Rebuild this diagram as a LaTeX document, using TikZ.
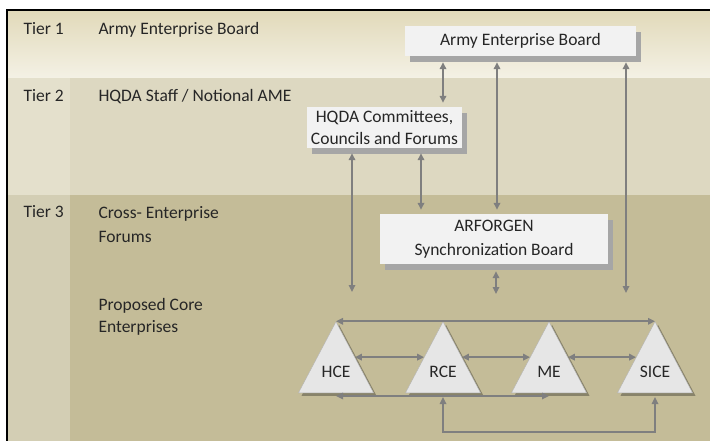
\documentclass[tikz,border=0pt]{standalone}
\usepackage{fontspec}
\setmainfont{Carlito}
\usetikzlibrary{arrows.meta,shapes.geometric,shadows}
\definecolor{bandtop}{HTML}{E1D9B9}
\definecolor{bandbot}{HTML}{F4F1E5}
\definecolor{bandmid}{HTML}{DDD8C1}
\definecolor{colmid}{HTML}{E4E0CC}
\definecolor{bandlow}{HTML}{C4BC98}
\definecolor{collow}{HTML}{D3CEB4}
\definecolor{boxfill}{HTML}{F2F2F2}
\definecolor{boxshade}{HTML}{A6A6A6}
\definecolor{trifill}{HTML}{E6E6E6}
\definecolor{triline}{HTML}{B4B4B4}
\definecolor{linkgray}{HTML}{7F7F7F}
\definecolor{txt}{HTML}{262626}
\begin{document}
\begin{tikzpicture}[x=1pt,y=-1pt,
    every node/.style={font=\fontsize{17.5}{22}\selectfont, text=txt},
    board/.style={fill=boxfill, inner sep=0pt, align=center,
        drop shadow={shadow xshift=5pt, shadow yshift=-6pt, fill=boxshade, opacity=1}},
    core/.style={isosceles triangle, isosceles triangle stretches, shape border rotate=90,
        minimum width=75pt, minimum height=71pt, inner sep=0pt,
        draw=triline, fill=trifill,
        drop shadow={shadow xshift=3pt, shadow yshift=-3pt, fill=black, opacity=0.3}},
    link/.style={draw=linkgray, line width=1.6pt,
        {Triangle[length=7pt,width=6.5pt]}-{Triangle[length=7pt,width=6.5pt]}}]
    \useasboundingbox (0,0) rectangle (710,441);
    \fill[white] (0,0) rectangle (710,441);
    \shade[top color=bandtop, bottom color=bandbot] (8,10) rectangle (710,78);
    \fill[bandmid] (8,78) rectangle (710,195);
    \fill[colmid] (8,78) rectangle (70,195);
    \fill[bandlow] (8,195) rectangle (710,441);
    \fill[collow] (8,195) rectangle (70,441);
    \draw[line width=2pt] (7,441) -- (7,10) -- (710,10);
    \node[anchor=base west] (tier1) at (20,35) {Tier 1};
    \node[anchor=base west] (tier1name) at (95,35) {Army Enterprise Board};
    \node[anchor=base west] (tier2) at (20,102) {Tier 2};
    \node[anchor=base west] (tier2name) at (95,102) {HQDA Staff / Notional AME};
    \node[anchor=base west] (tier3) at (20,218) {Tier 3};
    \node[anchor=base west, align=left, font=\fontsize{17.5}{24}\selectfont] (tier3name) at (95,242) {Cross- Enterprise\\Forums};
    \node[anchor=base west, align=left] (corename) at (95,332) {Proposed Core\\Enterprises};
    \node[board, minimum width=231pt, minimum height=30pt] (aeb) at (520.5,41) {Army Enterprise Board};
    \node[board, minimum width=155pt, minimum height=41pt] (hqda) at (384.5,127.5) {HQDA Committees,\\Councils and Forums};
    \node[board, minimum width=228pt, minimum height=50pt, font=\fontsize{17.5}{24}\selectfont] (afsb) at (494,239) {ARFORGEN\\Synchronization Board};
    \node[core, anchor=lower side] (hce) at (336,393) {};
    \node[core, anchor=lower side] (rce) at (443,393) {};
    \node[core, anchor=lower side] (me) at (549,393) {};
    \node[core, anchor=lower side] (sice) at (655,393) {};
    \node[anchor=base] (hcetext) at ([yshift=16pt]hce.lower side) {HCE};
    \node[anchor=base] (rcetext) at ([yshift=16pt]rce.lower side) {RCE};
    \node[anchor=base] (metext) at ([yshift=16pt]me.lower side) {ME};
    \node[anchor=base] (sicetext) at ([yshift=16pt]sice.lower side) {SICE};
    \coordinate (hcein) at (352,292);
    \coordinate (corein) at (496,294);
    \coordinate (sicein) at (626,293);
    \draw[link, shorten <=6pt, shorten >=4pt] (aeb.south -| 443,0) -- (hqda.north -| 443,0);
    \draw[link, shorten <=6pt, shorten >=4pt] (aeb.south -| 497,0) -- (afsb.north -| 497,0);
    \draw[link, shorten <=6pt] (aeb.south -| sicein) -- (sicein);
    \draw[link, shorten <=5pt, shorten >=4pt] (hqda.south -| 421,0) -- (afsb.north -| 421,0);
    \draw[link, shorten <=5pt] (hqda.south -| hcein) -- (hcein);
    \draw[link, shorten <=7pt] (afsb.south -| corein) -- (corein);
    \draw[link] (hce.apex) -- (sice.apex);
    \draw[link] (hce.right side) -- (rce.left side);
    \draw[link] (rce.right side) -- (me.left side);
    \draw[link] (me.right side) -- (sice.left side);
    \draw[link] ([yshift=-3pt]hce.lower side) -- ([yshift=-3pt]me.lower side);
    \draw[link] ([yshift=-4pt]rce.lower side) -- ++(0,35) -| ([yshift=-4pt]sice.lower side);
\end{tikzpicture}
\end{document}
